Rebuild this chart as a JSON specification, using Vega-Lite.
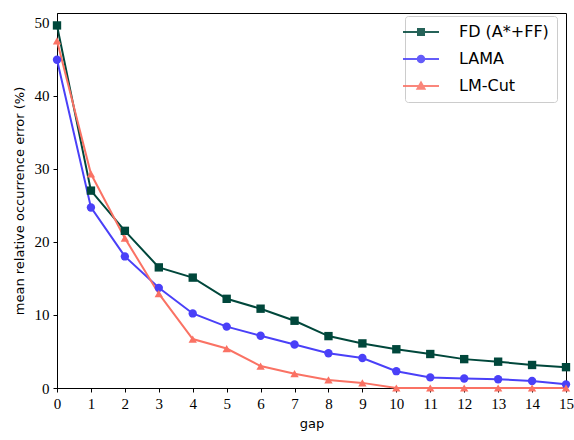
{
  "$schema": "https://vega.github.io/schema/vega-lite/v6.json",
  "autosize": "none",
  "width": 509,
  "height": 375,
  "padding": {"left": 57, "top": 13, "right": 8, "bottom": 52},
  "background": "white",
  "config": {
    "view": {"stroke": "black", "strokeWidth": 1},
    "axis": {
      "labelFont": "Liberation Serif",
      "labelFontSize": 15,
      "labelColor": "#000",
      "titleFont": "DejaVu Sans",
      "titleFontSize": 13,
      "titleFontWeight": "normal",
      "titleColor": "#000",
      "tickColor": "#000",
      "domainColor": "#000",
      "tickSize": 4,
      "grid": false
    }
  },
  "data": {
    "values": [
      {"gap": 0, "method": "FD (A*+FF)", "err": 49.6},
      {"gap": 1, "method": "FD (A*+FF)", "err": 27.0},
      {"gap": 2, "method": "FD (A*+FF)", "err": 21.5},
      {"gap": 3, "method": "FD (A*+FF)", "err": 16.5},
      {"gap": 4, "method": "FD (A*+FF)", "err": 15.1},
      {"gap": 5, "method": "FD (A*+FF)", "err": 12.2},
      {"gap": 6, "method": "FD (A*+FF)", "err": 10.85},
      {"gap": 7, "method": "FD (A*+FF)", "err": 9.2},
      {"gap": 8, "method": "FD (A*+FF)", "err": 7.1},
      {"gap": 9, "method": "FD (A*+FF)", "err": 6.1},
      {"gap": 10, "method": "FD (A*+FF)", "err": 5.3},
      {"gap": 11, "method": "FD (A*+FF)", "err": 4.65},
      {"gap": 12, "method": "FD (A*+FF)", "err": 3.95},
      {"gap": 13, "method": "FD (A*+FF)", "err": 3.6},
      {"gap": 14, "method": "FD (A*+FF)", "err": 3.15},
      {"gap": 15, "method": "FD (A*+FF)", "err": 2.85},
      {"gap": 0, "method": "LAMA", "err": 44.9},
      {"gap": 1, "method": "LAMA", "err": 24.7},
      {"gap": 2, "method": "LAMA", "err": 18.0},
      {"gap": 3, "method": "LAMA", "err": 13.7},
      {"gap": 4, "method": "LAMA", "err": 10.2},
      {"gap": 5, "method": "LAMA", "err": 8.4},
      {"gap": 6, "method": "LAMA", "err": 7.15},
      {"gap": 7, "method": "LAMA", "err": 5.95},
      {"gap": 8, "method": "LAMA", "err": 4.75},
      {"gap": 9, "method": "LAMA", "err": 4.1},
      {"gap": 10, "method": "LAMA", "err": 2.3},
      {"gap": 11, "method": "LAMA", "err": 1.45},
      {"gap": 12, "method": "LAMA", "err": 1.3},
      {"gap": 13, "method": "LAMA", "err": 1.2},
      {"gap": 14, "method": "LAMA", "err": 0.95},
      {"gap": 15, "method": "LAMA", "err": 0.5},
      {"gap": 0, "method": "LM-Cut", "err": 47.5},
      {"gap": 1, "method": "LM-Cut", "err": 29.3},
      {"gap": 2, "method": "LM-Cut", "err": 20.5},
      {"gap": 3, "method": "LM-Cut", "err": 12.9},
      {"gap": 4, "method": "LM-Cut", "err": 6.7},
      {"gap": 5, "method": "LM-Cut", "err": 5.4},
      {"gap": 6, "method": "LM-Cut", "err": 3.0},
      {"gap": 7, "method": "LM-Cut", "err": 1.95},
      {"gap": 8, "method": "LM-Cut", "err": 1.1},
      {"gap": 9, "method": "LM-Cut", "err": 0.7},
      {"gap": 10, "method": "LM-Cut", "err": 0},
      {"gap": 11, "method": "LM-Cut", "err": 0},
      {"gap": 12, "method": "LM-Cut", "err": 0},
      {"gap": 13, "method": "LM-Cut", "err": 0},
      {"gap": 14, "method": "LM-Cut", "err": 0},
      {"gap": 15, "method": "LM-Cut", "err": 0}
    ]
  },
  "encoding": {
    "x": {
      "field": "gap", "type": "quantitative", "title": "gap",
      "scale": {"domain": [0, 15], "nice": false},
      "axis": {"values": [0,1,2,3,4,5,6,7,8,9,10,11,12,13,14,15], "labelPadding": 4, "titlePadding": 6, "labelFlush": false}
    },
    "y": {
      "field": "err", "type": "quantitative", "title": "mean relative occurrence error (%)",
      "scale": {"domain": [0, 51.3], "nice": false, "zero": true},
      "axis": {"values": [0, 10, 20, 30, 40, 50], "labelPadding": 4, "titlePadding": 8, "labelFlush": false}
    },
    "color": {
      "field": "method", "type": "nominal",
      "scale": {"domain": ["FD (A*+FF)", "LAMA", "LM-Cut"], "range": ["#00473b", "#4a40f8", "#fa7264"]},
      "legend": {
        "title": null,
        "orient": "none",
        "legendX": 348,
        "legendY": 3,
        "padding": 8,
        "cornerRadius": 3,
        "strokeColor": "#cccccc",
        "fillColor": "white",
        "labelFont": "DejaVu Sans",
        "labelFontSize": 16,
        "labelColor": "#000",
        "labelOffset": 30,
        "rowPadding": 11,
        "symbolSize": 100,
        "symbolStrokeWidth": 2,
        "symbolType": "circle",
        "encode": {
          "symbols": {
            "update": {
              "shape": {"signal": "datum.value == 'FD (A*+FF)' ? 'M-3.6,0H3.6M-0.6,-0.6H0.6V0.6H-0.6Z' : datum.value == 'LAMA' ? 'M-3.6,0H3.6M-0.65,0A0.65,0.65,0,1,0,0.65,0A0.65,0.65,0,1,0,-0.65,0Z' : 'M-3.6,0H3.6M-0.7,0.55L0,-0.7L0.7,0.55Z'"},
              "opacity": {"value": 0.85}
            }
          }
        }
      }
    }
  },
  "layer": [
    {
      "mark": {"type": "line", "strokeWidth": 2}
    },
    {
      "transform": [{"filter": "datum.method == 'FD (A*+FF)'"}],
      "mark": {"type": "point", "filled": true, "opacity": 1, "size": 70, "shape": "square"}
    },
    {
      "transform": [{"filter": "datum.method == 'LAMA'"}],
      "mark": {"type": "point", "filled": true, "opacity": 1, "size": 70, "shape": "circle"}
    },
    {
      "transform": [{"filter": "datum.method == 'LM-Cut'"}],
      "mark": {"type": "point", "filled": true, "opacity": 1, "size": 70, "shape": "triangle-up"}
    }
  ]
}
